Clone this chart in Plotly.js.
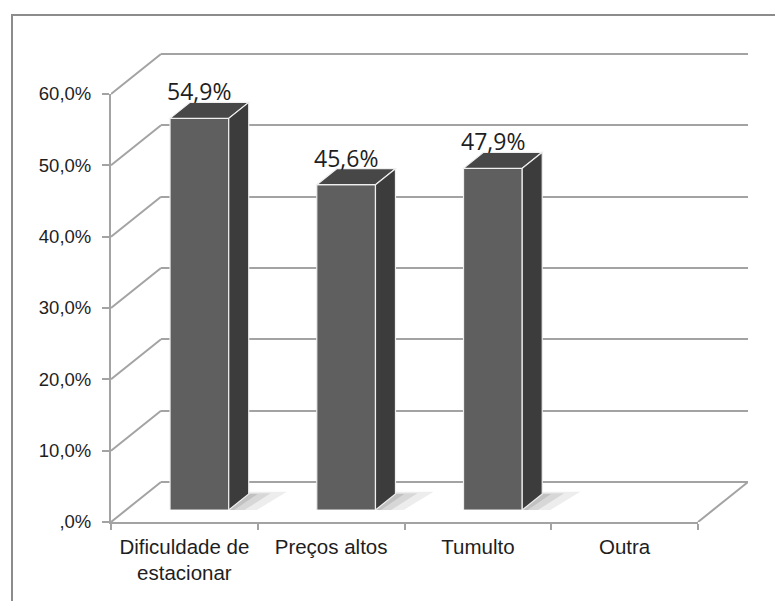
<!DOCTYPE html>
<html>
<head>
<meta charset="utf-8">
<script src="https://cdn.plot.ly/plotly-3.0.1.min.js"></script>
<style>
  html, body { margin: 0; padding: 0; background: #fff; overflow: hidden; }
  #chart { position: absolute; left: 0; top: 0; width: 775px; height: 601px; }
  #frame { position: absolute; left: 11px; top: 14px; width: 800px; height: 700px;
           border-left: 2px solid #8c8c8c; border-top: 2px solid #8c8c8c; pointer-events: none; }
</style>
</head>
<body>
<div id="chart"></div>
<div id="frame"></div>
<script>
// ---- data ----
const categories = ['Dificuldade de estacionar', 'Preços altos', 'Tumulto', 'Outra'];
const categoryLabels = ['Dificuldade de<br>estacionar', 'Preços altos', 'Tumulto', 'Outra'];
const values = [54.9, 45.6, 47.9, 0];
const valueLabels = ['54,9%', '45,6%', '47,9%', ''];
const tickValues = [0, 10, 20, 30, 40, 50, 60];
const tickLabels = [',0%', '10,0%', '20,0%', '30,0%', '40,0%', '50,0%', '60,0%'];

// ---- geometry of the oblique 3-D box ----
const W = 775, H = 601;
const M = { l: 111, r: 27, t: 46, b: 79 };
const PW = W - M.l - M.r;            // width holding front + depth
const PH = H - M.t - M.b;            // height holding front + depth (+ pad)
const WALL = { dx: 50, dy: 40 };     // depth of floor / side wall, px
const FRONT_W = PW - WALL.dx;
const FRONT_H = 428;
const GRID_PAD = 3;                  // keeps the outer gridlines inside the wall axis
const BAR_FRONT = 0.3, BAR_BACK = 0.7; // bar position inside the depth
const BAR_WIDTH = 0.4;
const YMAX = 60;
const NCAT = categories.length;

const catPx = FRONT_W / NCAT;
const unitPx = FRONT_H / YMAX;
const barDepth = {
  cat: WALL.dx * (BAR_BACK - BAR_FRONT) / catPx,
  val: WALL.dy * (BAR_BACK - BAR_FRONT) / unitPx
};

function layerDomain(f, pad) {
  pad = pad || 0;
  return {
    x: [WALL.dx * f / PW, (WALL.dx * f + FRONT_W) / PW],
    y: [(WALL.dy * f - pad) / PH, (WALL.dy * f + FRONT_H + pad) / PH]
  };
}
const frontLayer = layerDomain(0);
const wallLayer = layerDomain(1, GRID_PAD);
const barLayer = layerDomain(BAR_FRONT);

// ---- colours ----
const LINE = '#a3a3a3';
const FACE_FRONT = '#5f5f5f';
const FACE_TOP = '#474747';
const FACE_SIDE = '#3c3c3c';
const EDGE = '#efefef';
const TXT = '#1e1e1e';

// ---- traces ----
const traces = [
  // front axes (floor edge, value axis, category labels)
  { type: 'scatter', mode: 'none', x: categories, y: values, xaxis: 'x', yaxis: 'y',
    hoverinfo: 'skip', showlegend: false },
  // back wall (gridlines)
  { type: 'scatter', mode: 'none', x: categories, y: values, xaxis: 'x2', yaxis: 'y2',
    hoverinfo: 'skip', showlegend: false },
  // bar front faces
  { type: 'bar', x: categories, y: values, xaxis: 'x3', yaxis: 'y3', width: BAR_WIDTH,
    marker: { color: FACE_FRONT, line: { color: EDGE, width: values.map(v => v > 0 ? 1.2 : 0) } },
    hoverinfo: 'skip', showlegend: false, cliponaxis: false },
  // whole box (front scale extended over the depth), carries the depth edges
  { type: 'scatter', mode: 'none', x: categories, y: values, xaxis: 'x4', yaxis: 'y4',
    hoverinfo: 'skip', showlegend: false }
];

// ---- shapes ----
const shapes = [];
const depthLine = { color: LINE, width: 2 };

// side wall diagonals (front value axis -> back wall)
tickValues.forEach(v => {
  shapes.push({ type: 'line', xref: 'x4', yref: 'y4', xsizemode: 'pixel', ysizemode: 'pixel',
    xanchor: -0.5, yanchor: v, x0: 0, y0: 0, x1: WALL.dx, y1: WALL.dy, line: depthLine, layer: 'below' });
});
// right edge of the floor
shapes.push({ type: 'line', xref: 'x4', yref: 'y4', xsizemode: 'pixel', ysizemode: 'pixel',
  xanchor: NCAT - 0.5, yanchor: 0, x0: 0, y0: 0, x1: WALL.dx, y1: WALL.dy,
  line: depthLine, layer: 'below' });

function poly(pts) {
  return 'M' + pts.map(p => p[0] + ',' + p[1]).join('L') + 'Z';
}

values.forEach((v, i) => {
  if (!(v > 0)) return;
  const l = i - BAR_WIDTH / 2, r = i + BAR_WIDTH / 2;
  const dc = barDepth.cat, dv = barDepth.val;
  // soft floor shadow
  shapes.push({ type: 'path', xref: 'x3', yref: 'y3', layer: 'below', line: { width: 0 },
    fillcolor: 'rgba(0,0,0,0.07)',
    path: poly([[l - 0.08, -0.4], [r + 0.16, -0.4], [r + dc + 0.26, dv + 0.3], [r + dc, dv + 0.3]]) });
  shapes.push({ type: 'path', xref: 'x3', yref: 'y3', layer: 'below', line: { width: 0 },
    fillcolor: 'rgba(0,0,0,0.09)',
    path: poly([[l - 0.04, -0.22], [r + 0.09, -0.22], [r + dc + 0.15, dv + 0.1], [r + dc, dv + 0.1]]) });
  shapes.push({ type: 'path', xref: 'x3', yref: 'y3', layer: 'below', line: { width: 0 },
    fillcolor: 'rgba(0,0,0,0.1)',
    path: poly([[l, -0.1], [r + 0.03, -0.1], [r + dc + 0.06, dv], [r + dc, dv]]) });
  // top face
  shapes.push({ type: 'path', xref: 'x3', yref: 'y3', layer: 'above',
    line: { color: EDGE, width: 1.2 }, fillcolor: FACE_TOP,
    path: poly([[l, v], [r, v], [r + dc, v + dv], [l + dc, v + dv]]) });
  // side face
  shapes.push({ type: 'path', xref: 'x3', yref: 'y3', layer: 'above',
    line: { color: EDGE, width: 1.2 }, fillcolor: FACE_SIDE,
    path: poly([[r, 0], [r, v], [r + dc, v + dv], [r + dc, dv]]) });
});

// ---- value labels ----
const annotations = values.map((v, i) => ({
  xref: 'x3', yref: 'y3', x: i, y: v, text: valueLabels[i], showarrow: false,
  xanchor: 'center', yanchor: 'bottom', yshift: 9,
  font: { family: 'Open Sans, sans-serif', size: 23, color: TXT }
})).filter(a => a.text);

// ---- layout ----
const hidden = { visible: false, showgrid: false, zeroline: false, fixedrange: true };
const padVal = GRID_PAD / unitPx;
const layout = {
  width: W, height: H,
  margin: M,
  paper_bgcolor: 'rgba(0,0,0,0)',
  plot_bgcolor: 'rgba(0,0,0,0)',
  showlegend: false,
  xaxis: {
    type: 'category', domain: frontLayer.x, range: [-0.5, NCAT - 0.5],
    tickmode: 'array', tickvals: categories, ticktext: categoryLabels,
    tickson: 'boundaries', ticks: 'outside', ticklen: 6, tickwidth: 2, tickcolor: LINE,
    showline: true, linecolor: LINE, linewidth: 2, showgrid: false, zeroline: false,
    ticklabelstandoff: 5,
    tickfont: { family: 'Liberation Sans, Arial, sans-serif', size: 20.5, color: TXT },
    anchor: 'y'
  },
  yaxis: {
    domain: frontLayer.y, range: [0, YMAX],
    tickmode: 'array', tickvals: tickValues, ticktext: tickLabels,
    ticks: 'outside', ticklen: 7, tickwidth: 2, tickcolor: LINE,
    showline: true, linecolor: LINE, linewidth: 2, showgrid: false, zeroline: false,
    ticklabelstandoff: 7,
    tickfont: { family: 'Liberation Sans, Arial, sans-serif', size: 18.5, color: TXT },
    anchor: 'x'
  },
  xaxis2: Object.assign({}, hidden, { type: 'category', domain: wallLayer.x,
    range: [-0.5, NCAT - 0.5], anchor: 'y2' }),
  yaxis2: { domain: wallLayer.y, range: [-padVal, YMAX + padVal], anchor: 'x2',
    tickmode: 'array', tickvals: tickValues, showticklabels: false, ticks: '',
    showgrid: true, gridcolor: LINE, gridwidth: 2,
    zeroline: true, zerolinecolor: LINE, zerolinewidth: 2, showline: false, fixedrange: true },
  xaxis3: Object.assign({}, hidden, { type: 'category', domain: barLayer.x,
    range: [-0.5, NCAT - 0.5], anchor: 'y3' }),
  yaxis3: Object.assign({}, hidden, { domain: barLayer.y, range: [0, YMAX], anchor: 'x3' }),
  xaxis4: Object.assign({}, hidden, { type: 'category', domain: [0, 1],
    range: [-0.5, -0.5 + NCAT * PW / FRONT_W], anchor: 'y4' }),
  yaxis4: Object.assign({}, hidden, { domain: [0, 1],
    range: [0, YMAX * PH / FRONT_H], anchor: 'x4' }),
  shapes: shapes,
  annotations: annotations
};

Plotly.newPlot('chart', traces, layout, { staticPlot: true, displayModeBar: false });
</script>
</body>
</html>
